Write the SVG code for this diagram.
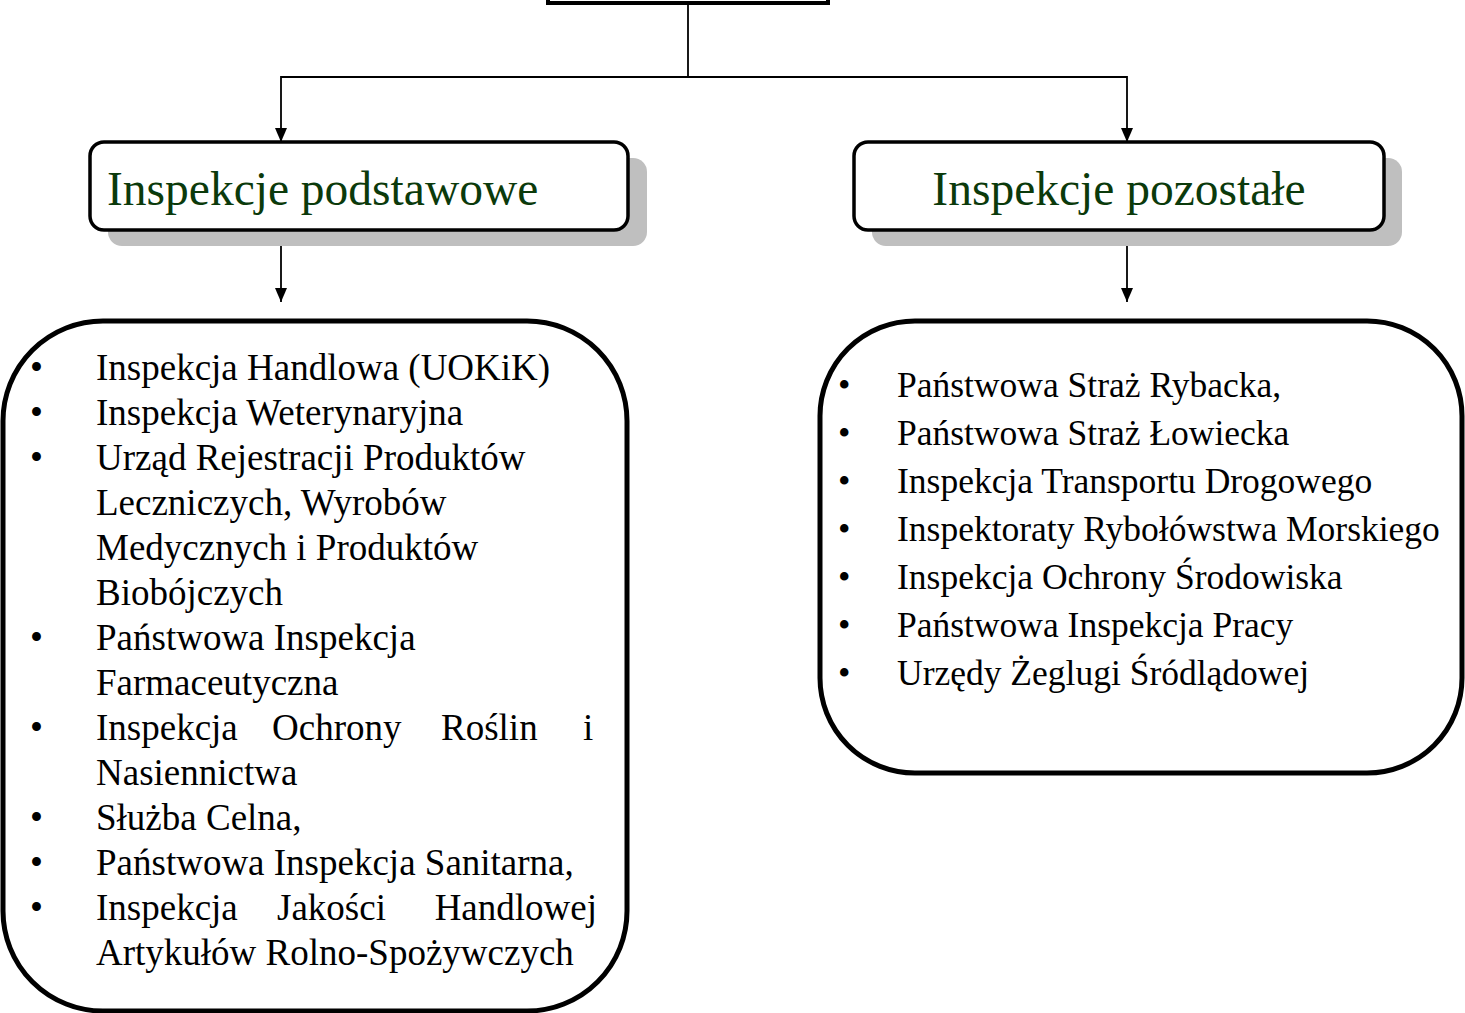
<svg xmlns="http://www.w3.org/2000/svg" width="1465" height="1013" viewBox="0 0 1465 1013">
<defs>
<style>
.hdr{fill:#fff;stroke:#000;stroke-width:3.5}
.shd{fill:#bfbfbf;stroke:none}
.list{fill:#fff;stroke:#000;stroke-width:5}
.ttl{font-family:"Liberation Serif","Times New Roman",serif;font-size:47.5px;fill:#0b3a0b}
.txt{font-family:"Liberation Serif","Times New Roman",serif;font-size:37px;fill:#000}
.txr{font-family:"Liberation Serif","Times New Roman",serif;font-size:35.5px;fill:#000}
.con{fill:none;stroke:#000;stroke-width:1.8}
</style>
</defs>
<rect width="1465" height="1013" fill="#fff"/>
<g id="top">
<rect x="548" y="-60" width="280" height="63" fill="#fff" stroke="#000" stroke-width="4"/>
</g>
<g id="connectors">
<path class="con" d="M688,4 V77"/>
<path class="con" d="M688,77 H281 V142"/>
<path class="con" d="M688,77 H1127 V142"/>
<path class="con" d="M281,246 V302"/>
<path class="con" d="M1127,246 V302"/>
<path d="M275,128 L287,128 L281,142 Z" fill="#000"/>
<path d="M1121,128 L1133,128 L1127,142 Z" fill="#000"/>
<path d="M275,288 L287,288 L281,302 Z" fill="#000"/>
<path d="M1121,288 L1133,288 L1127,302 Z" fill="#000"/>
</g>
<g id="hdr-left">
<rect class="shd" x="108" y="158" width="539" height="88" rx="14"/>
<rect class="hdr" x="90" y="142" width="538" height="88" rx="14"/>
<text class="ttl" x="107" y="205">Inspekcje podstawowe</text>
</g>
<g id="hdr-right">
<rect class="shd" x="872" y="158" width="530" height="88" rx="14"/>
<rect class="hdr" x="854" y="142" width="530" height="88" rx="14"/>
<text class="ttl" x="1119" y="205" text-anchor="middle">Inspekcje pozostałe</text>
</g>
<g id="list-left">
<rect class="list" x="3" y="321" width="624" height="690" rx="100"/>
<g class="txt">
<text x="30" y="380">•</text><text x="96" y="380">Inspekcja Handlowa (UOKiK)</text>
<text x="30" y="425">•</text><text x="96" y="425">Inspekcja Weterynaryjna</text>
<text x="30" y="470">•</text><text x="96" y="470">Urząd Rejestracji Produktów</text>
<text x="96" y="515">Leczniczych, Wyrobów</text>
<text x="96" y="560">Medycznych i Produktów</text>
<text x="96" y="605">Biobójczych</text>
<text x="30" y="650">•</text><text x="96" y="650">Państwowa Inspekcja</text>
<text x="96" y="695">Farmaceutyczna</text>
<text x="30" y="740">•</text><text y="740"><tspan x="96">Inspekcja</tspan><tspan x="272">Ochrony</tspan><tspan x="441">Roślin</tspan><tspan x="583">i</tspan></text>
<text x="96" y="785">Nasiennictwa</text>
<text x="30" y="830">•</text><text x="96" y="830">Służba Celna,</text>
<text x="30" y="875">•</text><text x="96" y="875">Państwowa Inspekcja Sanitarna,</text>
<text x="30" y="920">•</text><text y="920"><tspan x="96">Inspekcja</tspan><tspan x="277">Jakości</tspan><tspan x="597" text-anchor="end">Handlowej</tspan></text>
<text x="96" y="965">Artykułów Rolno-Spożywczych</text>
</g>
</g>
<g id="list-right">
<rect class="list" x="820" y="321" width="642" height="452" rx="95"/>
<g class="txr">
<text x="838" y="397">•</text><text x="897" y="397">Państwowa Straż Rybacka,</text>
<text x="838" y="445">•</text><text x="897" y="445">Państwowa Straż Łowiecka</text>
<text x="838" y="493">•</text><text x="897" y="493">Inspekcja Transportu Drogowego</text>
<text x="838" y="541">•</text><text x="897" y="541">Inspektoraty Rybołówstwa Morskiego</text>
<text x="838" y="589">•</text><text x="897" y="589">Inspekcja Ochrony Środowiska</text>
<text x="838" y="637">•</text><text x="897" y="637">Państwowa Inspekcja Pracy</text>
<text x="838" y="685">•</text><text x="897" y="685">Urzędy Żeglugi Śródlądowej</text>
</g>
</g>
</svg>
